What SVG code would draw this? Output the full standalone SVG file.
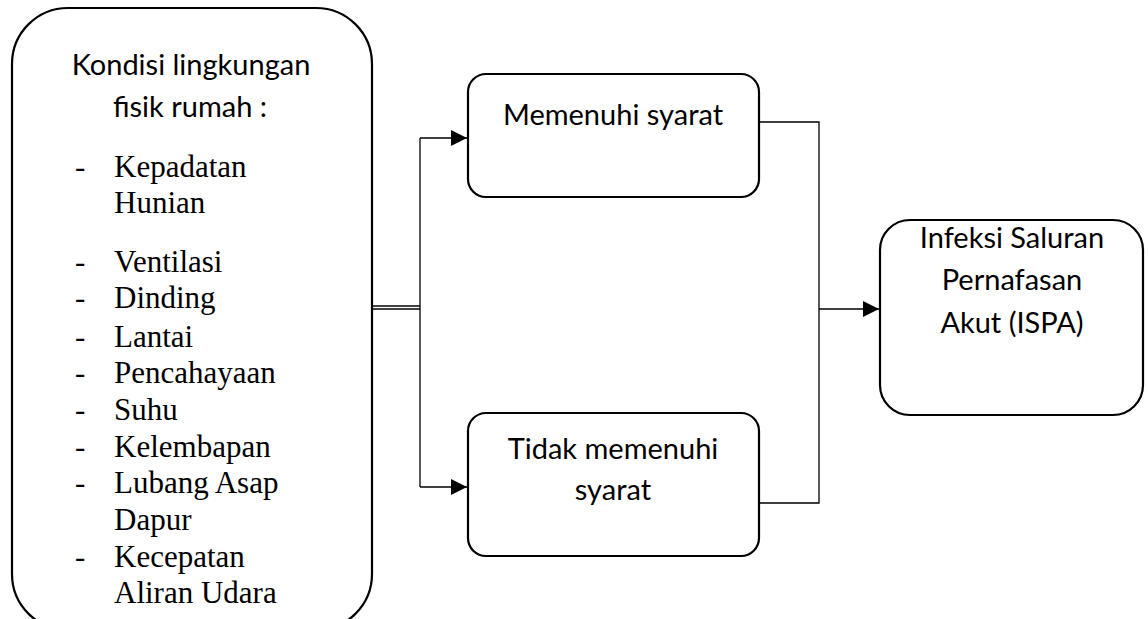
<svg xmlns="http://www.w3.org/2000/svg" width="1148" height="619" viewBox="0 0 1148 619">
<style>
.box{fill:#fff;stroke:#000;stroke-width:2.2}
.cal{font-family:Lato,"Liberation Sans",sans-serif;font-size:29px;fill:#000;text-anchor:middle}
.tnr{font-family:"Liberation Serif","Times New Roman",serif;font-size:31px;fill:#000}
.ln{fill:none;stroke:#000;stroke-width:1.3}
</style>
<defs>
<marker id="ah" viewBox="0 0 16 16" refX="16" refY="8" markerWidth="16" markerHeight="16" markerUnits="userSpaceOnUse" orient="auto">
<path d="M0,0 L16,8 L0,16 Z" fill="#000"/>
</marker>
</defs>
<rect width="1148" height="619" fill="#fff"/>
<g id="kondisi">
<rect class="box" x="12" y="8" width="360" height="622" rx="56" ry="56"/>
<text class="cal" x="191" y="75">Kondisi lingkungan</text>
<text class="cal" x="190" y="117">fisik rumah :</text>
<g class="tnr">
<text x="75" y="177">-</text><text x="114" y="177">Kepadatan</text>
<text x="114" y="213">Hunian</text>
<text x="75" y="272">-</text><text x="114" y="272">Ventilasi</text>
<text x="75" y="308">-</text><text x="114" y="308">Dinding</text>
<text x="75" y="347">-</text><text x="114" y="347">Lantai</text>
<text x="75" y="383">-</text><text x="114" y="383">Pencahayaan</text>
<text x="75" y="420">-</text><text x="114" y="420">Suhu</text>
<text x="75" y="457">-</text><text x="114" y="457">Kelembapan</text>
<text x="75" y="493">-</text><text x="114" y="493">Lubang Asap</text>
<text x="114" y="530">Dapur</text>
<text x="75" y="567">-</text><text x="114" y="567">Kecepatan</text>
<text x="114" y="603">Aliran Udara</text>
</g>
</g>
<g id="memenuhi">
<rect class="box" x="468" y="74" width="291" height="123" rx="18" ry="18"/>
<text class="cal" x="613" y="125">Memenuhi syarat</text>
</g>
<g id="tidak">
<rect class="box" x="468" y="413" width="291" height="143" rx="18" ry="18"/>
<text class="cal" x="613" y="459">Tidak memenuhi</text>
<text class="cal" x="613" y="500">syarat</text>
</g>
<g id="ispa">
<rect class="box" x="880" y="220" width="263" height="195" rx="30" ry="30"/>
<text class="cal" x="1012" y="248">Infeksi Saluran</text>
<text class="cal" x="1012" y="290">Pernafasan</text>
<text class="cal" x="1012" y="333">Akut (ISPA)</text>
</g>
<g id="connectors">
<line class="ln" x1="373" y1="306" x2="420" y2="306"/>
<line class="ln" x1="373" y1="309" x2="420" y2="309"/>
<line class="ln" x1="420" y1="138" x2="420" y2="487"/>
<line class="ln" x1="420" y1="138" x2="467" y2="138" marker-end="url(#ah)"/>
<line class="ln" x1="420" y1="487" x2="467" y2="487" marker-end="url(#ah)"/>
<polyline class="ln" points="759,122 819,122 819,503 759,503"/>
<line class="ln" x1="819" y1="309" x2="879" y2="309" marker-end="url(#ah)"/>
</g>
</svg>
